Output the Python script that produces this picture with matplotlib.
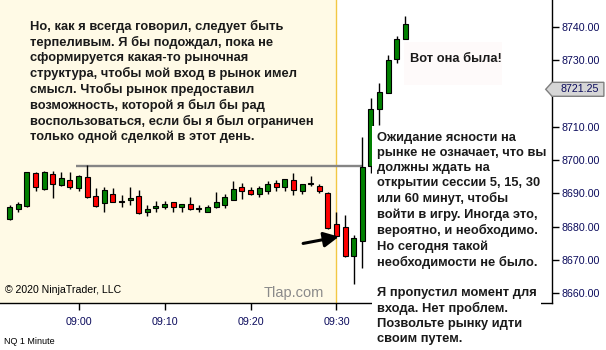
import matplotlib
matplotlib.use("Agg")
import matplotlib.pyplot as plt
from matplotlib.patches import Polygon, Rectangle
import matplotlib.transforms as mtransforms

plt.rcParams['font.family'] = ['Liberation Sans', 'DejaVu Sans']

# 1-minute NQ bars, 08:52 .. 09:38
times = ['08:52', '08:53', '08:54', '08:55', '08:56', '08:57', '08:58', '08:59', '09:00', '09:01',
         '09:02', '09:03', '09:04', '09:05', '09:06', '09:07', '09:08', '09:09', '09:10', '09:11',
         '09:12', '09:13', '09:14', '09:15', '09:16', '09:17', '09:18', '09:19', '09:20', '09:21',
         '09:22', '09:23', '09:24', '09:25', '09:26', '09:27', '09:28', '09:29', '09:30', '09:31',
         '09:32', '09:33', '09:34', '09:35', '09:36', '09:37', '09:38']
opens = [8682.25, 8685.25, 8686.25, 8696.0, 8691.25, 8695.75, 8692.5, 8694.0, 8691.5, 8695.0,
         8689.25, 8687.0, 8689.75, 8687.5, 8688.0, 8689.25, 8684.5, 8685.5, 8685.75, 8687.25,
         8686.0, 8686.75, 8685.25, 8684.5, 8686.0, 8686.5, 8688.0, 8691.75, 8691.0, 8689.75,
         8690.75, 8693.0, 8692.0, 8694.0, 8690.75, 8692.75, 8692.25, 8690.0, 8680.75, 8679.75,
         8671.0, 8675.75, 8698.25, 8715.25, 8720.25, 8730.25, 8736.5]
highs = [8686.5, 8687.25, 8696.5, 8696.25, 8696.75, 8696.75, 8696.25, 8696.25, 8695.5, 8698.5,
         8691.5, 8692.0, 8691.5, 8689.5, 8691.75, 8691.0, 8686.5, 8687.75, 8687.75, 8687.5,
         8686.75, 8688.75, 8686.5, 8686.5, 8690.5, 8689.75, 8693.75, 8693.0, 8692.0, 8692.25,
         8693.75, 8694.0, 8694.25, 8696.0, 8692.75, 8695.25, 8692.75, 8690.25, 8684.25, 8683.5,
         8677.5, 8707.0, 8718.5, 8723.0, 8731.5, 8737.25, 8743.25]
lows = [8682.0, 8684.25, 8686.0, 8690.75, 8691.0, 8688.5, 8692.25, 8691.25, 8690.75, 8688.5,
        8686.0, 8684.5, 8687.25, 8685.75, 8686.5, 8683.75, 8683.25, 8684.25, 8685.25, 8684.25,
        8684.25, 8685.0, 8684.25, 8684.5, 8685.5, 8685.5, 8688.0, 8688.25, 8689.5, 8689.0,
        8689.75, 8690.75, 8690.75, 8689.5, 8689.75, 8692.25, 8690.0, 8679.25, 8677.0, 8670.75,
        8662.75, 8667.5, 8696.0, 8710.5, 8720.25, 8729.25, 8736.25]
closes = [8686.0, 8686.75, 8696.25, 8691.75, 8696.5, 8692.75, 8694.5, 8691.75, 8695.25, 8688.75,
          8686.25, 8691.0, 8687.5, 8687.5, 8688.5, 8684.0, 8685.25, 8686.25, 8686.75, 8686.0,
          8686.75, 8685.25, 8685.25, 8685.75, 8687.5, 8688.75, 8691.25, 8690.75, 8689.75, 8691.5,
          8692.75, 8691.75, 8694.25, 8691.0, 8692.75, 8693.0, 8690.75, 8679.5, 8677.25, 8671.0,
          8676.5, 8697.75, 8715.25, 8720.5, 8730.0, 8736.25, 8741.0]

xtick_labels = ['09:00', '09:10', '09:20', '09:30']
ytick_values = [8660, 8670, 8680, 8690, 8700, 8710, 8730, 8740]  # 8720 hidden by price marker
last_price = 8721.25
level_price = 8698.25
level_from, level_to = '09:00', '09:33'
arrow_from = ('09:26', 8674.75)
arrow_to = ('09:30', 8677.1)


def minutes(t):
    h, m = t.split(':')
    return (int(h) - 9) * 60 + int(m)


x = [minutes(t) for t in times]

fig = plt.figure(figsize=(6.06, 3.5), dpi=100)
ax = fig.add_axes([0, 47 / 350, 552 / 606, 303 / 350])
ax.set_xlim(-9.13, 55.06)
ax.set_ylim(8657.0, 8748.1)

# background: cream before the open, white after
ax.axvspan(-9.13, 29.9, color='#FFFAE6', zorder=0, lw=0)
ax.axvline(29.9, color='#F2C744', lw=1, zorder=1)

# horizontal level
ax.plot([minutes(level_from) - 0.3, minutes(level_to)], [level_price, level_price],
        color='#858585', lw=1.7, zorder=2, solid_capstyle='butt')

# candles
body_w = 0.58
for xi, o, h, l, c in zip(x, opens, highs, lows, closes):
    ax.vlines(xi, l, h, color='black', lw=1, zorder=3)
    if c > o:
        col = '#008000'
    elif c < o:
        col = '#FF0000'
    else:
        col = 'black'
    bottom = min(o, c)
    height = max(abs(c - o), 0.3)
    ax.bar(xi, height, bottom=bottom, width=body_w, color=col, edgecolor='black',
           linewidth=0.8, zorder=4)

# arrow
ax.annotate('', xy=(minutes(arrow_to[0]) + 0.6, arrow_to[1]),
            xytext=(minutes(arrow_from[0]) - 0.2, arrow_from[1]),
            arrowprops=dict(arrowstyle='-|>,head_length=0.9,head_width=0.45',
                            mutation_scale=10, lw=2.2, color='black'),
            zorder=5)

# axes styling
for s in ['top', 'left']:
    ax.spines[s].set_visible(False)
ax.spines['right'].set_linewidth(1)
ax.spines['bottom'].set_linewidth(1)
ax.yaxis.tick_right()
ax.set_yticks(ytick_values)
ax.set_yticklabels(['%.2f' % v for v in ytick_values])
ax.set_xticks([minutes(t) for t in xtick_labels])
ax.set_xticklabels(xtick_labels)
ax.tick_params(axis='y', length=5, width=1, pad=2, labelsize=7.7, labelcolor='#0B0B5C')
ax.tick_params(axis='x', length=5, width=1, pad=5, labelsize=7.7, labelcolor='#0B0B5C')

# last price marker
trans = mtransforms.blended_transform_factory(ax.transAxes, ax.transData)
d = 2.1
marker = Polygon([(0.9886, last_price), (1.0, last_price + d), (1.094, last_price + d),
                  (1.094, last_price - d), (1.0, last_price - d)],
                 closed=True, transform=trans, clip_on=False,
                 facecolor='#D6D6D6', edgecolor='#7F7F7F', lw=1, zorder=6)
ax.add_patch(marker)
ax.text(1.016, last_price, '%.2f' % last_price, transform=trans, ha='left', va='center',
        fontsize=7.7, color='#0B0B5C', zorder=7, clip_on=False)

# texts
fig.text(5 / 606, 1 - 290 / 350, '© 2020 NinjaTrader, LLC', fontsize=7.6, va='center', ha='left')
fig.text(4 / 606, 1 - 341 / 350, 'NQ 1 Minute', fontsize=6.5, va='center', ha='left')
fig.text(294 / 606, 1 - 293 / 350, 'Tlap.com', fontsize=10.5, color='#8A8A8A',
         va='center', ha='center')

left_txt = ('Но, как я всегда говорил, следует быть\n'
            'терпеливым. Я бы подождал, пока не\n'
            'сформируется какая-то рыночная\n'
            'структура, чтобы мой вход в рынок имел\n'
            'смысл. Чтобы рынок предоставил\n'
            'возможность, которой я был бы рад\n'
            'воспользоваться, если бы я был ограничен\n'
            'только одной сделкой в этот день.')
fig.text(30 / 606, 1 - 20 / 350, left_txt, fontsize=9.25, fontweight='bold', color='#1A1A1A',
         va='top', ha='left', linespacing=1.3)

fig.patches.append(Rectangle((404 / 606, 1 - 85 / 350), 98 / 606, 43 / 350,
                             transform=fig.transFigure, facecolor='#FEFAFA',
                             edgecolor='none', zorder=8))
fig.text(410 / 606, 1 - 59 / 350, 'Вот она была!', fontsize=9.25, fontweight='bold',
         color='#1A1A1A', va='center', ha='left', zorder=9)

fig.patches.append(Rectangle((372 / 606, 0), 169 / 606, 1 - 126 / 350,
                             transform=fig.transFigure, facecolor='white',
                             edgecolor='none', zorder=8))
right_txt = ('Ожидание ясности на\n'
             'рынке не означает, что вы\n'
             'должны ждать на\n'
             'открытии сессии 5, 15, 30\n'
             'или 60 минут, чтобы\n'
             'войти в игру. Иногда это,\n'
             'вероятно, и необходимо.\n'
             'Но сегодня такой\n'
             'необходимости не было.\n'
             '\n'
             'Я пропустил момент для\n'
             'входа. Нет проблем.\n'
             'Позвольте рынку идти\n'
             'своим путем.')
fig.text(377 / 606, 1 - 132 / 350, right_txt, fontsize=9.25, fontweight='bold', color='#1A1A1A',
         va='top', ha='left', linespacing=1.33, zorder=9)

fig.savefig('out.png', dpi=100)
